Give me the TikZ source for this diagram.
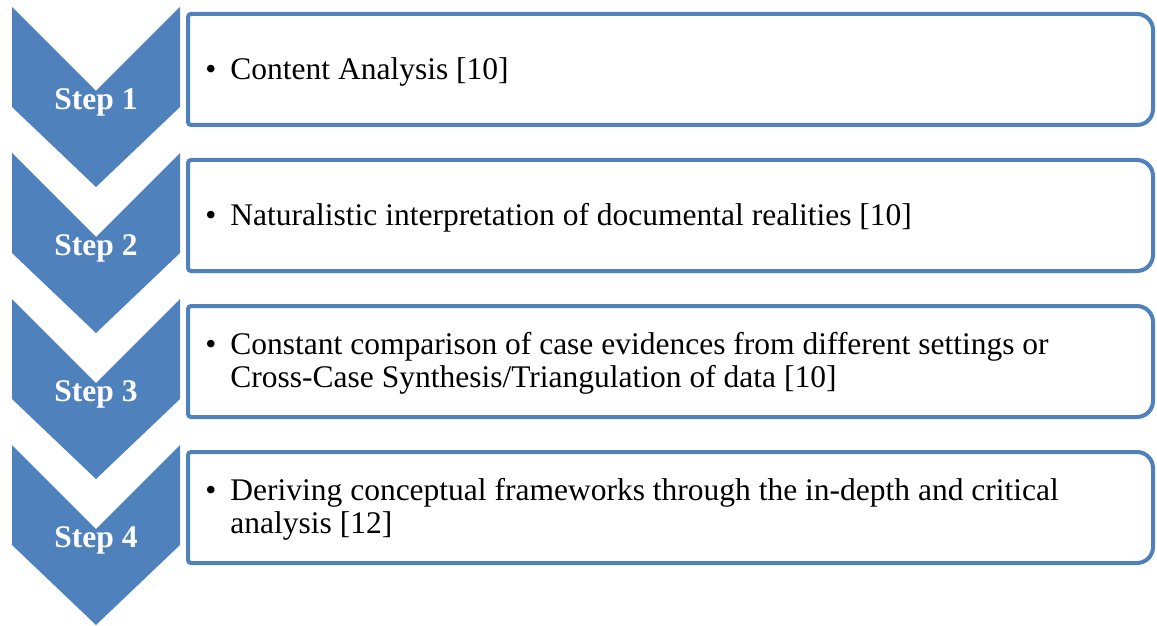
\documentclass[tikz,border=0pt]{standalone}
\usepackage{fontspec}
\setmainfont{Liberation Serif}
\definecolor{stepblue}{RGB}{79,129,189}

\begin{document}
\begin{tikzpicture}[x=0.5pt,y=-0.5pt,
    chevron/.style={fill=stepblue},
    steplabel/.style={text=white, font=\fontsize{15.75}{16.5}\selectfont\bfseries},
    stepbox/.style={draw=stepblue, line width=2pt, fill=white},
    steptext/.style={anchor=west, inner sep=0pt, align=left, font=\fontsize{15.75}{16.5}\selectfont}]
    \useasboundingbox (0,0) rectangle (1157,626);
    % chevrons
    \fill[chevron] (12,7) -- (96,91) -- (180,7) -- (180,107) -- (96,187) -- (12,107) -- cycle;
    \fill[chevron] (12,153) -- (96,237) -- (180,153) -- (180,253) -- (96,333) -- (12,253) -- cycle;
    \fill[chevron] (12,299) -- (96,383) -- (180,299) -- (180,399) -- (96,479) -- (12,399) -- cycle;
    \fill[chevron] (12,445) -- (96,529) -- (180,445) -- (180,545) -- (96,625) -- (12,545) -- cycle;
    \node[steplabel] (s1) at (96,102) {Step 1};
    \node[steplabel] (s2) at (96,248) {Step 2};
    \node[steplabel] (s3) at (96,394) {Step 3};
    \node[steplabel] (s4) at (96,540) {Step 4};
    % boxes
    \draw[stepbox] (188,70) [rounded corners=1.5pt] -- (188,14) -- (620,14) [rounded corners=8pt] -- (1153,14) -- (1153,125) -- (620,125) [rounded corners=1.5pt] -- (188,125) -- cycle;
    \draw[stepbox] (188,216) [rounded corners=1.5pt] -- (188,160) -- (620,160) [rounded corners=8pt] -- (1153,160) -- (1153,271) -- (620,271) [rounded corners=1.5pt] -- (188,271) -- cycle;
    \draw[stepbox] (188,362) [rounded corners=1.5pt] -- (188,306) -- (620,306) [rounded corners=8pt] -- (1153,306) -- (1153,417) -- (620,417) [rounded corners=1.5pt] -- (188,417) -- cycle;
    \draw[stepbox] (188,508) [rounded corners=1.5pt] -- (188,452) -- (620,452) [rounded corners=8pt] -- (1153,452) -- (1153,563) -- (620,563) [rounded corners=1.5pt] -- (188,563) -- cycle;
    % texts
    \node[steptext] (t1) at (205,72) {\textbullet\hspace{7pt}Content Analysis [10]};
    \node[steptext] (t2) at (205,218) {\textbullet\hspace{7pt}Naturalistic interpretation of documental realities [10]};
    \node[steptext] (t3) at (205,364) {\begin{tabular}{@{}l@{\hspace{7pt}}l@{}}
        \textbullet & Constant comparison of case evidences from different settings or\\
        & Cross-Case Synthesis/Triangulation of data [10]\end{tabular}};
    \node[steptext] (t4) at (205,510) {\begin{tabular}{@{}l@{\hspace{7pt}}l@{}}
        \textbullet & Deriving conceptual frameworks through the in-depth and critical\\
        & analysis [12]\end{tabular}};
\end{tikzpicture}
\end{document}
